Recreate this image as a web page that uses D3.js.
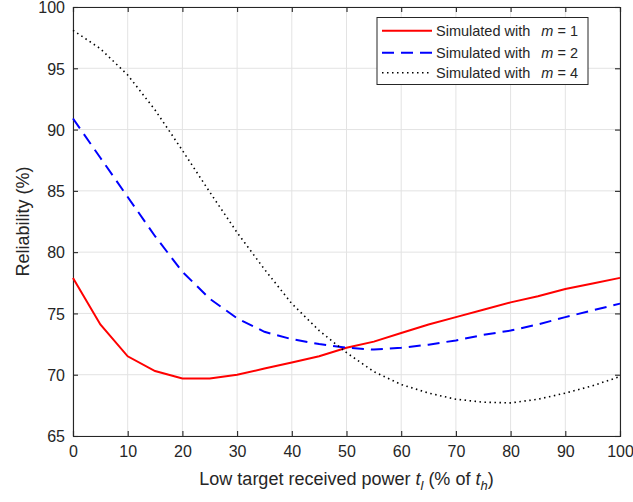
<!DOCTYPE html>
<html><head><meta charset="utf-8">
<script src="https://cdn.jsdelivr.net/npm/d3@7"></script>
<style>body{margin:0;background:#fff}svg{display:block}text{font-family:"Liberation Sans",Arial,sans-serif}</style>
</head><body>
<script>
const xValues = [0,5,10,15,20,25,30,35,40,45,50,55,60,65,70,75,80,85,90,95,100];
const seriesNames = ["Simulated with", "Simulated with", "Simulated with"];
const mValues = [1, 2, 4];
const m1 = [77.9,74.1,71.5,70.3,69.7,69.7,70.0,70.5,71.0,71.5,72.2,72.7,73.4,74.1,74.7,75.3,75.9,76.4,77.0,77.45,77.9];
const m2 = [90.9,87.7,84.5,81.3,78.4,76.2,74.6,73.5,72.9,72.5,72.2,72.05,72.2,72.45,72.8,73.25,73.6,74.1,74.7,75.25,75.8];
const m4 = [98.1,96.6,94.45,91.6,88.3,84.9,81.6,78.6,75.8,73.6,71.8,70.25,69.2,68.5,68.0,67.76,67.7,68.0,68.5,69.1,69.85];
const xTicks = [0,10,20,30,40,50,60,70,80,90,100];
const yTicks = [65,70,75,80,85,90,95,100];

const W=633,H=502, L=73, R=620, T=7, B=436;
const svg=d3.select("body").append("svg").attr("width",W).attr("height",H);
const x=d3.scaleLinear().domain([0,100]).range([L,R]);
const y=d3.scaleLinear().domain([65,100]).range([B,T]);
const ink="#262626";

// grid
const g=svg.append("g");
g.selectAll(".gx").data(xTicks).enter().append("line")
 .attr("x1",d=>x(d)).attr("x2",d=>x(d)).attr("y1",T).attr("y2",B)
 .attr("stroke","#e3e3e3").attr("stroke-width",1);
g.selectAll(".gy").data(yTicks).enter().append("line")
 .attr("y1",d=>y(d)).attr("y2",d=>y(d)).attr("x1",L).attr("x2",R)
 .attr("stroke","#e3e3e3").attr("stroke-width",1);

// axes
const xa=d3.axisBottom(x).tickValues(xTicks).tickSize(-5).tickPadding(10).tickFormat(d3.format("d"));
const ya=d3.axisLeft(y).tickValues(yTicks).tickSize(-5).tickPadding(8).tickFormat(d3.format("d"));
const xt=d3.axisTop(x).tickValues(xTicks).tickSize(-5).tickFormat("");
const yr=d3.axisRight(y).tickValues(yTicks).tickSize(-5).tickFormat("");
function style(sel){sel.selectAll("path,line").attr("stroke",ink).attr("stroke-width",1.1);
 sel.selectAll("text").attr("fill",ink).attr("font-size",16);}
svg.append("g").attr("transform",`translate(0,${B})`).call(xa).call(style);
const yg=svg.append("g").attr("transform",`translate(${L},0)`).call(ya).call(style);
yg.selectAll("text").attr("dy","0.36em");
svg.append("g").attr("transform",`translate(0,${T})`).call(xt).call(style);
svg.append("g").attr("transform",`translate(${R},0)`).call(yr).call(style);

// lines
const series=[
 {v:m1,color:"#ff0000",dash:null,w:2},
 {v:m2,color:"#0000ff",dash:"12,7",w:2},
 {v:m4,color:"#000000",dash:"1.5,3.5",w:1.6}
];
const line=d3.line().x((d,i)=>x(xValues[i])).y(d=>y(d));
series.forEach(s=>{
 svg.append("path").datum(s.v).attr("d",line).attr("fill","none")
  .attr("stroke",s.color).attr("stroke-width",s.w)
  .attr("stroke-dasharray",s.dash);
});

// labels
svg.append("text").attr("x",(L+R)/2).attr("y",485).attr("text-anchor","middle")
 .attr("fill",ink).attr("font-size",18)
 .html('Low target received power <tspan font-style="italic">t</tspan><tspan font-style="italic" font-size="13" dy="5">l</tspan><tspan dy="-5"> (% of </tspan><tspan font-style="italic">t</tspan><tspan font-style="italic" font-size="13" dy="5">h</tspan><tspan dy="-5">)</tspan>');
svg.append("text").attr("transform",`translate(29,${(T+B)/2}) rotate(-90)`).attr("text-anchor","middle")
 .attr("fill",ink).attr("font-size",18).text("Reliability (%)");

// legend
const lg=svg.append("g");
lg.append("rect").attr("x",377).attr("y",17.5).attr("width",211).attr("height",67)
 .attr("fill","#fff").attr("stroke",ink).attr("stroke-width",1);
const rows=[30.7,52.7,72.7];
series.forEach((s,i)=>{
 lg.append("line").attr("x1",382).attr("x2",432).attr("y1",rows[i]).attr("y2",rows[i])
  .attr("stroke",s.color).attr("stroke-width",s.w).attr("stroke-dasharray",s.dash);
 lg.append("text").attr("x",436).attr("y",rows[i]+5).attr("fill",ink).attr("font-size",14.5)
  .html(seriesNames[i]+'<tspan dx="11" font-style="italic">m</tspan> = '+mValues[i]);
});
</script>
</body></html>
